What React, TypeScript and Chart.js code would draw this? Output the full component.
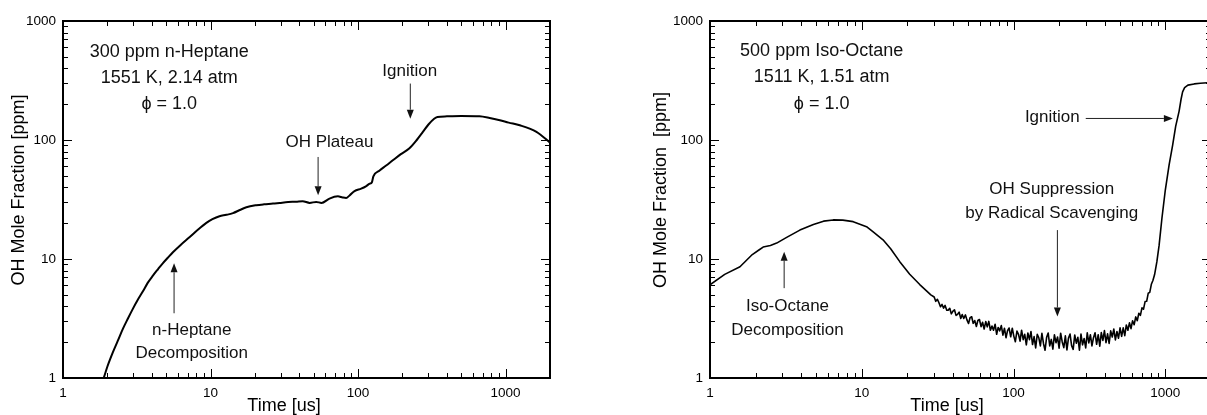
import React, { useEffect, useRef } from "react";
import { Chart, registerables } from "chart.js";

Chart.register(...registerables);

// ---------- data ----------
const heptaneTime = [1.8, 1.887, 2.0, 2.18, 2.35, 2.55, 2.75, 2.98, 3.2, 3.49, 3.75, 4.07, 4.4, 4.76, 5.15, 5.56, 6.3, 7.23, 8.2, 9.37, 10.3, 11.5, 12.8, 14.2, 15.8, 17.5, 20.4, 23, 26.5, 29.4, 33.6, 38, 42.1, 47, 52, 56.5, 64, 73, 78.6, 83, 87.6, 94.6, 105, 113, 120, 124, 127, 140, 155, 172, 195, 222, 250, 275, 300, 328, 345, 400, 500, 665, 780, 914, 1050, 1248, 1619, 2000];
const heptaneOH = [0.86, 1.0, 1.25, 1.65, 2.05, 2.6, 3.15, 3.83, 4.5, 5.38, 6.3, 7.25, 8.2, 9.25, 10.3, 11.4, 13.2, 15.3, 17.6, 20.1, 21.6, 22.9, 23.5, 24.3, 25.8, 27.2, 28.3, 28.8, 29.2, 29.6, 30.1, 30.3, 30.6, 29.6, 30.2, 29.6, 32.2, 33.6, 32.9, 32.6, 34.2, 37.2, 39, 40.8, 43, 44, 49.5, 55.5, 61, 67.5, 76, 84.7, 100, 117, 135, 151, 156, 158, 159, 158, 153, 146.5, 140, 133, 117, 95];

const octaneTime = [
  1, 1.25, 1.576, 1.9, 2.1, 2.24, 2.5, 2.75, 3.2, 3.91, 4.8, 5.6, 6.48, 7.5, 8.78, 10.75, 12.0, 13.8, 15.5, 17.8, 20.7, 24.1, 26.7, 28.5,
  30.0, 30.7, 31.5, 32.2, 33.0, 33.8, 34.6, 35.4, 36.3, 37.1,
  38.0, 38.9, 39.9, 40.8, 41.8, 42.8, 43.8, 44.9, 45.9, 47.0,
  48.2, 49.3, 50.5, 51.7, 53.0, 54.2, 55.5, 56.9, 58.2, 59.6,
  61.1, 62.5, 64.0, 65.6, 67.1, 68.7, 70.4, 72.1, 73.8, 75.6,
  77.4, 79.2, 81.1, 83.1, 85.1, 87.1, 89.2, 91.3, 93.5, 95.8,
  98.1, 100.4, 102.8, 105.3, 107.8, 110.4, 113.0, 115.8, 118.5, 121.4,
  124.3, 127.3, 130.3, 133.4, 136.6, 139.9, 143.3, 146.7, 150.2, 153.8,
  157.5, 161.3, 165.2, 169.1, 173.2, 177.3, 181.6, 185.9, 190.4, 195.0,
  199.6, 204.4, 209.3, 214.4, 219.5, 224.8, 230.2, 235.7, 241.3, 247.1,
  253.1, 259.1, 265.4, 271.7, 278.2, 284.9, 291.8, 298.8, 306.0, 313.3,
  320.8, 328.5, 336.4, 344.5, 352.7, 361.2, 369.9, 378.7, 387.8, 397.1,
  406.7, 416.4, 426.4, 436.7, 447.1, 457.9, 468.9, 480.1, 491.6, 503.4,
  515.5, 527.9, 540.6, 553.5, 566.8, 580.4, 594.3, 608.6, 623.2, 638.2,
  653.5, 669.2, 685.2, 701.7, 718.5, 735.8, 753.4, 771.5, 790.0, 809.0,
  828.4,
  850, 880, 910, 950, 1000, 1060, 1117, 1170, 1233, 1270, 1300, 1340, 1409, 1550, 1700, 2000,
];
const octaneOH = [
  6.07, 7.43, 8.6, 10.9, 11.9, 12.6, 13.0, 13.6, 15.2, 17.5, 19.5, 20.8, 21.3, 21.2, 20.6, 18.7, 16.7, 14.5, 12.2, 9.5, 7.45, 6.1, 5.4, 5.0,
  4.79, 4.41, 4.58, 4.31, 3.97, 4.15, 3.87, 4.07, 3.71, 3.72,
  3.85, 3.46, 3.65, 3.74, 3.36, 3.43, 3.58, 3.16, 3.41, 3.16,
  3.39, 3.08, 2.87, 3.21, 3.27, 2.88, 3.04, 2.71, 3.04, 3.10,
  2.70, 2.94, 2.58, 2.98, 2.69, 2.99, 2.52, 2.73, 2.52, 2.83,
  2.33, 2.66, 2.49, 2.76, 2.29, 2.62, 2.18, 2.50, 2.63, 2.22,
  2.62, 2.25, 2.02, 2.48, 2.33, 2.04, 2.52, 2.10, 2.33, 1.90,
  2.39, 2.10, 2.46, 1.91, 2.23, 1.79, 2.33, 2.18, 1.86, 2.37,
  1.95, 1.71, 2.20, 2.39, 1.86, 2.11, 1.75, 2.31, 1.98, 2.21,
  1.78, 2.38, 2.01, 1.80, 2.26, 1.72, 2.17, 2.34, 1.87, 1.74,
  2.30, 1.96, 2.20, 1.71, 2.34, 1.90, 2.15, 1.79, 2.40, 1.97,
  2.31, 1.86, 2.18, 2.40, 1.92, 2.31, 1.85, 2.41, 2.07, 2.50,
  1.98, 2.35, 1.95, 2.49, 2.21, 2.58, 2.09, 2.46, 2.16, 2.64,
  2.24, 2.64, 2.27, 2.79, 2.52, 2.91, 2.60, 3.03, 2.80, 3.26,
  3.03, 3.50, 3.36, 3.89, 3.79, 4.39, 4.41, 5.15, 5.24, 6.13,
  6.6,
  7.4, 9.5, 13, 22, 38, 62, 90, 130, 175, 220, 254, 275, 289, 296, 300, 304,
];

const xTickValues = [1, 2, 3, 4, 5, 6, 7, 8, 9, 10, 20, 30, 40, 50, 60, 70, 80, 90, 100, 200, 300, 400, 500, 600, 700, 800, 900, 1000];
const yTickValues = [1, 2, 3, 4, 5, 6, 7, 8, 9, 10, 20, 30, 40, 50, 60, 70, 80, 90, 100, 200, 300, 400, 500, 600, 700, 800, 900, 1000];
const majorTickLabels = [1, 10, 100, 1000];

const FONT = '"Liberation Sans", Arial, Helvetica, sans-serif';

type Note = { text: string; t: number; v: number; size: number };
type Arrow = { t1: number; v1: number; t2: number; v2: number };

const heptaneNotes: Note[] = [
  { text: "300 ppm n-Heptane", t: 5.25, v: 548, size: 18 },
  { text: "1551 K, 2.14 atm", t: 5.25, v: 334, size: 18 },
  { text: "\u03D5 = 1.0", t: 5.25, v: 200, size: 18 },
  { text: "Ignition", t: 224, v: 380, size: 17 },
  { text: "OH Plateau", t: 64, v: 96, size: 17 },
  { text: "n-Heptane", t: 7.46, v: 2.52, size: 17 },
  { text: "Decomposition", t: 7.46, v: 1.61, size: 17 },
];
const heptaneArrows: Arrow[] = [
  { t1: 226, v1: 298, t2: 226, v2: 151 },
  { t1: 53.6, v1: 72, t2: 53.6, v2: 34.3 },
  { t1: 5.66, v1: 3.5, t2: 5.66, v2: 9.2 },
];

const octaneNotes: Note[] = [
  { text: "500 ppm Iso-Octane", t: 5.44, v: 560, size: 18 },
  { text: "1511 K, 1.51 atm", t: 5.44, v: 335, size: 18 },
  { text: "\u03D5 = 1.0", t: 5.44, v: 200, size: 18 },
  { text: "Iso-Octane", t: 3.24, v: 4.04, size: 17 },
  { text: "Decomposition", t: 3.24, v: 2.54, size: 17 },
  { text: "OH Suppression", t: 178.5, v: 38.5, size: 17 },
  { text: "by Radical Scavenging", t: 178.5, v: 24.2, size: 17 },
  { text: "Ignition", t: 180, v: 156.6, size: 17 },
];
const octaneArrows: Arrow[] = [
  { t1: 3.08, v1: 5.69, t2: 3.08, v2: 11.5 },
  { t1: 194.5, v1: 17.5, t2: 194.5, v2: 3.29 },
  { t1: 299, v1: 151.7, t2: 1122, v2: 151.7 },
];

type PanelCfg = {
  time: number[];
  oh: number[];
  lineWidth: number;
  smooth: boolean;
  notes: Note[];
  arrows: Arrow[];
  xTitle: string;
  yTitle: string;
  xTitleDx: number;
  yTitleDx: number;
  yTitleDy: number;
  padRight: number;
};

const isMajor = (v: number) => Math.abs(Math.log10(v) - Math.round(Math.log10(v))) < 1e-9;

function decorPlugin(cfg: PanelCfg) {
  return {
    id: "decor",
    afterDraw(chart: any) {
      const { ctx, chartArea: a, scales } = chart;
      const xs = scales.x;
      const ys = scales.y;
      ctx.save();
      ctx.strokeStyle = "#000";
      ctx.lineWidth = 1;
      ctx.beginPath();
      for (const v of xTickValues) {
        const px = Math.round(xs.getPixelForValue(v)) + 0.5;
        const len = isMajor(v) ? 9 : 5;
        ctx.moveTo(px, a.bottom);
        ctx.lineTo(px, a.bottom - len);
        ctx.moveTo(px, a.top);
        ctx.lineTo(px, a.top + len);
      }
      for (const v of yTickValues) {
        const py = Math.round(ys.getPixelForValue(v)) + 0.5;
        const len = isMajor(v) ? 9 : 5;
        ctx.moveTo(a.left, py);
        ctx.lineTo(a.left + len, py);
        ctx.moveTo(a.right, py);
        ctx.lineTo(a.right - len, py);
      }
      ctx.stroke();
      ctx.lineWidth = 2;
      ctx.strokeRect(a.left, a.top, a.right - a.left, a.bottom - a.top);

      // axis titles
      ctx.fillStyle = "#000";
      ctx.font = `18px ${FONT}`;
      ctx.textAlign = "center";
      ctx.textBaseline = "alphabetic";
      ctx.fillText(cfg.xTitle, (a.left + a.right) / 2 + cfg.xTitleDx, 411);
      ctx.save();
      ctx.translate(a.left + cfg.yTitleDx, (a.top + a.bottom) / 2 + cfg.yTitleDy);
      ctx.rotate(-Math.PI / 2);
      ctx.fillText(cfg.yTitle, 0, 0);
      ctx.restore();

      // annotations
      ctx.fillStyle = "#111";
      ctx.textBaseline = "middle";
      for (const n of cfg.notes) {
        ctx.font = `${n.size}px ${FONT}`;
        ctx.fillText(n.text, xs.getPixelForValue(n.t), ys.getPixelForValue(n.v));
      }
      ctx.strokeStyle = "#222";
      ctx.fillStyle = "#111";
      ctx.lineWidth = 1;
      for (const ar of cfg.arrows) {
        const x1 = xs.getPixelForValue(ar.t1);
        const y1 = ys.getPixelForValue(ar.v1);
        const x2 = xs.getPixelForValue(ar.t2);
        const y2 = ys.getPixelForValue(ar.v2);
        const ang = Math.atan2(y2 - y1, x2 - x1);
        const hl = 9;
        const hw = 3.5;
        const bx = x2 - hl * Math.cos(ang);
        const by = y2 - hl * Math.sin(ang);
        ctx.beginPath();
        ctx.moveTo(x1, y1);
        ctx.lineTo(bx, by);
        ctx.stroke();
        ctx.beginPath();
        ctx.moveTo(x2, y2);
        ctx.lineTo(bx + hw * Math.sin(ang), by - hw * Math.cos(ang));
        ctx.lineTo(bx - hw * Math.sin(ang), by + hw * Math.cos(ang));
        ctx.closePath();
        ctx.fill();
      }
      ctx.restore();
    },
  };
}

function Panel({ cfg, left }: { cfg: PanelCfg; left: number }) {
  const ref = useRef<HTMLCanvasElement | null>(null);
  useEffect(() => {
    if (!ref.current) return;
    const tickFont = { family: FONT, size: 13.5 };
    const chart = new Chart(ref.current, {
      type: "line",
      data: {
        datasets: [
          {
            data: cfg.time.map((t, i) => ({ x: t, y: cfg.oh[i] })),
            borderColor: "#000",
            borderWidth: cfg.lineWidth,
            pointRadius: 0,
            fill: false,
            tension: 0,
            cubicInterpolationMode: cfg.smooth ? "monotone" : "default",
            borderJoinStyle: "round",
          },
        ],
      },
      options: {
        responsive: false,
        animation: false,
        events: [],
        layout: { padding: { left: 0, right: cfg.padRight, top: 21, bottom: 0 } },
        plugins: { legend: { display: false }, tooltip: { enabled: false }, title: { display: false } },
        scales: {
          x: {
            type: "logarithmic",
            min: 1,
            max: 2000,
            position: "bottom",
            grid: { display: false, drawTicks: false },
            border: { display: false },
            ticks: {
              autoSkip: false,
              maxRotation: 0,
              padding: 7,
              color: "#000",
              font: tickFont,
              callback: (v: any) => (majorTickLabels.includes(Number(v)) ? String(v) : ""),
            },
            afterBuildTicks: (s: any) => {
              s.ticks = xTickValues.map((value) => ({ value }));
            },
            afterFit: (s: any) => {
              s.height = 37;
            },
          },
          y: {
            type: "logarithmic",
            min: 1,
            max: 1000,
            position: "left",
            grid: { display: false, drawTicks: false },
            border: { display: false },
            ticks: {
              autoSkip: false,
              padding: 7,
              color: "#000",
              font: tickFont,
              callback: (v: any) => (majorTickLabels.includes(Number(v)) ? String(v) : ""),
            },
            afterBuildTicks: (s: any) => {
              s.ticks = yTickValues.map((value) => ({ value }));
            },
            afterFit: (s: any) => {
              s.width = 63;
            },
          },
        },
      } as any,
      plugins: [decorPlugin(cfg)],
    });
    return () => chart.destroy();
  }, [cfg]);
  return (
    <canvas
      ref={ref}
      width={600}
      height={415}
      style={{ position: "absolute", left, top: 0, width: 600, height: 415 }}
    />
  );
}

const heptaneCfg: PanelCfg = {
  time: heptaneTime,
  oh: heptaneOH,
  lineWidth: 2,
  smooth: true,
  notes: heptaneNotes,
  arrows: heptaneArrows,
  xTitle: "Time [us]",
  yTitle: "OH Mole Fraction [ppm]",
  xTitleDx: -22.5,
  yTitleDx: -39.5,
  yTitleDy: -9.5,
  padRight: 50,
};

const octaneCfg: PanelCfg = {
  time: octaneTime,
  oh: octaneOH,
  lineWidth: 1.6,
  smooth: false,
  notes: octaneNotes,
  arrows: octaneArrows,
  xTitle: "Time [us]",
  yTitle: "OH Mole Fraction  [ppm]",
  xTitleDx: -13.5,
  yTitleDx: -43.8,
  yTitleDy: -9.5,
  padRight: 36,
};

export default function App() {
  return (
    <div
      style={{
        position: "fixed",
        left: 0,
        top: 0,
        width: 1207,
        height: 415,
        overflow: "hidden",
        background: "#fff",
      }}
    >
      <Panel cfg={heptaneCfg} left={0} />
      <Panel cfg={octaneCfg} left={647} />
    </div>
  );
}
